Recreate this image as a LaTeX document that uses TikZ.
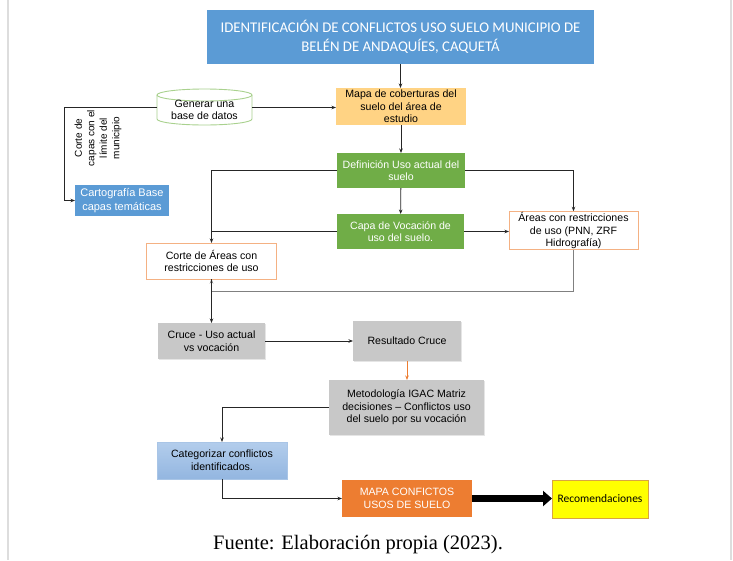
\documentclass[tikz,border=0pt]{standalone}
\usepackage{fontspec}
\setmainfont{Liberation Sans}
\newfontfamily\calfont{Carlito}
\newfontfamily\serfont{Liberation Serif}
\usetikzlibrary{arrows.meta,shadows,calc}

\definecolor{hdrblue}{HTML}{5B9BD5}
\definecolor{leafgreen}{HTML}{70AD47}
\definecolor{sand}{HTML}{FFD384}
\definecolor{boxgray}{HTML}{C8C8C8}
\definecolor{peach}{HTML}{F4B183}
\definecolor{flame}{HTML}{ED7D31}
\definecolor{lemon}{HTML}{FFFF00}
\definecolor{ochre}{HTML}{D9A441}
\definecolor{mint}{HTML}{A9D18E}
\definecolor{skyA}{HTML}{B3CDEC}
\definecolor{skyB}{HTML}{93B6E0}
\definecolor{ink}{HTML}{262626}
\definecolor{pageedge}{HTML}{DDDDDD}

\tikzset{
  box/.style={rectangle, inner sep=1pt, outer sep=0pt, align=center,
    font=\fontsize{10.6}{12.6}\selectfont, text=black},
  bluebox/.style={box, fill=hdrblue, text=white},
  greenbox/.style={box, fill=leafgreen, text=white},
  graybox/.style={box, fill=boxgray, drop shadow={shadow xshift=1pt, shadow yshift=-1pt, fill=black!20, opacity=0.5}},
  outlinebox/.style={box, fill=white, draw=peach, line width=0.9pt},
  link/.style={draw=ink, line width=0.8pt, -{Stealth[length=4.5pt,width=3.5pt]}},
  plain/.style={draw=ink, line width=0.8pt},
  greylink/.style={draw=black!50, line width=0.8pt, -{Stealth[length=4.5pt,width=3.5pt]}},
  orangelink/.style={draw=flame, line width=0.8pt, -{Stealth[length=4.5pt,width=3.5pt]}},
  boldlink/.style={draw=black, line width=6.5pt, -{Triangle[length=9pt,width=15pt]}},
}

\begin{document}
\begin{tikzpicture}[x=1pt,y=-1pt]
\useasboundingbox (0,0) rectangle (733,560);
\fill[white] (0,0) rectangle (733,560);
\draw[pageedge, line width=1.2pt] (8,0) -- (8,560);
\draw[pageedge, line width=1.2pt] (731,0) -- (731,560);

% title
\node[bluebox, minimum width=387pt, minimum height=54pt,
  font=\calfont\fontsize{14.8}{18.5}\selectfont] (title) at (400.5,37)
  {IDENTIFICACIÓN DE CONFLICTOS USO SUELO MUNICIPIO DE\\BELÉN DE ANDAQUÍES, CAQUETÁ};

% database cylinder
\node[box, minimum width=95pt, minimum height=37pt] (db) at (204.5,107.5) {};
\filldraw[draw=mint, fill=white, line width=0.9pt]
  (157,95) -- (157,119) arc[start angle=180, end angle=360, x radius=47.5pt, y radius=6pt]
  -- (252,95);
\draw[draw=mint, line width=0.9pt] (204.5,95) ellipse[x radius=47.5pt, y radius=6pt];
\node[box] (dbtext) at (204.5,110) {Generar una\\base de datos};

\node[box, fill=sand, minimum width=130pt, minimum height=37pt] (mapa) at (401,106.5)
  {Mapa de coberturas del\\suelo del área de\\estudio};

\node[bluebox, minimum width=94pt, minimum height=31pt, font=\fontsize{11}{13.5}\selectfont] (carto) at (122,200.5)
  {Cartografía Base\\capas temáticas};

\node[box, rotate=90, font=\fontsize{10}{12.5}\selectfont] (cutlabel) at (98,138)
  {Corte de\\capas con el\\límite del\\municipio};

\node[greenbox, minimum width=128pt, minimum height=35pt] (def) at (401,170.5)
  {Definición Uso actual del\\suelo};
\node[greenbox, minimum width=127pt, minimum height=35pt] (capa) at (400.5,231.5)
  {Capa de Vocación de\\uso del suelo.};
\node[outlinebox, minimum width=129pt, minimum height=37pt] (areas) at (573.5,230.5)
  {Áreas con restricciones\\de uso (PNN, ZRF\\Hidrografía)};
\node[outlinebox, minimum width=130pt, minimum height=36pt] (corte) at (211.5,261)
  {Corte de Áreas con\\restricciones de uso};

\node[graybox, minimum width=107pt, minimum height=36pt] (cruce) at (211.5,341)
  {Cruce - Uso actual\\vs vocación};
\node[graybox, minimum width=108pt, minimum height=40pt] (res) at (407,341)
  {Resultado Cruce};
\node[graybox, minimum width=155pt, minimum height=55pt] (met) at (406.5,407.5)
  {Metodología IGAC Matriz\\decisiones – Conflictos uso\\del suelo por su vocación};

\node[box, top color=skyA, bottom color=skyB, draw=skyB!80!white, line width=0.4pt,
  minimum width=130pt, minimum height=37pt] (cat) at (222,460.5)
  {Categorizar conflictos\\identificados.};

\node[box, fill=flame, text=white, minimum width=130pt, minimum height=37pt] (conf) at (407,498.5)
  {MAPA CONFICTOS\\USOS DE SUELO};
\node[box, fill=lemon, draw=ochre, line width=0.7pt, minimum width=96pt, minimum height=38pt,
  font=\calfont\fontsize{11.5}{13}\selectfont] (rec) at (600,499)
  {Recomendaciones};

\node[font=\serfont\fontsize{20.5}{24}\selectfont, inner sep=0pt] (src) at (358,545)
  {Fuente: Elaboración propia (2023).};

% connectors
\coordinate (bendL) at (64,107.5);
\coordinate (bendR) at (573.5,291);
\draw[link] (title.south) -- (title.south |- mapa.north);
\draw[link] (db.east) -- (db.east -| mapa.west);
\draw[link] (db.west) -- (bendL) |- (carto.west);
\draw[link] (mapa) -- (def);
\draw[link] (def.west) -| (corte.north);
\draw[link] (def.east) -| (areas.north);
\draw[link] (def) -- (capa);
\draw[plain] (capa.west) -- (capa.west -| corte.north);
\draw[link] (capa.east) -- (capa.east -| areas.west);
\draw[greylink] (areas.south) -- (bendR) -| (corte.south);
\draw[link] (corte.south) -- (corte.south |- cruce.north);
\draw[link] (cruce.east) -- (cruce.east -| res.west);
\draw[orangelink] (res.south) -- (res.south |- met.north);
\draw[link] (met.west) -| (cat.north);
\draw[link] (cat.south) |- (conf.west);
\draw[boldlink] (conf.east) -- (conf.east -| rec.west);
\end{tikzpicture}
\end{document}
